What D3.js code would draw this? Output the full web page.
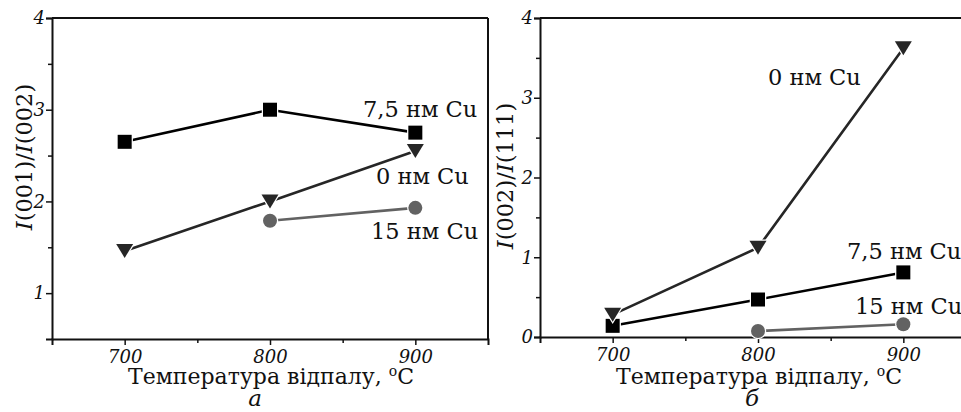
<!DOCTYPE html>
<html>
<head>
<meta charset="utf-8">
<script src="https://cdn.jsdelivr.net/npm/d3@7"></script>
<style>
  body { margin: 0; background: #fff; }
  svg { display: block; }
</style>
</head>
<body>
<script>
const width = 961;
const height = 412;
const serif = "DejaVu Serif";

// Data
const temps = [700, 800, 900];
const xTicks = [700, 800, 900];
const xMinor = [750, 850];

// panel a: I(001)/I(002)
const a_cu0 = [1.46, 2.0, 2.55];
const a_cu75 = [2.65, 3.0, 2.75];
const a_cu15 = [null, 1.79, 1.93];
const aTicks = [1, 2, 3, 4];
const aMinor = [1.5, 2.5, 3.5];

// panel b: I(002)/I(111)
const b_cu0 = [0.28, 1.12, 3.62];
const b_cu75 = [0.14, 0.47, 0.81];
const b_cu15 = [null, 0.075, 0.16];
const bTicks = [0, 1, 2, 3, 4];
const bMinor = [0.5, 1.5, 2.5, 3.5];

const seriesNames = ["0 нм Cu", "7,5 нм Cu", "15 нм Cu"];

const svg = d3.select("body").append("svg")
  .attr("width", width)
  .attr("height", height);

// marker shapes, with a thin white halo like the original
function marker(g, shape, x, y, color) {
  let m;
  if (shape === "square") {
    m = g.append("rect")
      .attr("x", x - 7).attr("y", y - 7)
      .attr("width", 14).attr("height", 14);
  } else if (shape === "circle") {
    m = g.append("circle")
      .attr("cx", x).attr("cy", y).attr("r", 7);
  } else {
    m = g.append("path")
      .attr("d", `M${x - 8.5},${y - 7}L${x + 8.5},${y - 7}L${x},${y + 7}Z`);
  }
  m.attr("fill", color)
    .attr("stroke", "#fff")
    .attr("stroke-width", 2.5)
    .attr("paint-order", "stroke");
}

function panel(opts) {
  const x = d3.scaleLinear().domain([650, 950]).range([opts.x0, opts.x0 + 436]);
  const y = d3.scaleLinear().domain(opts.yDomain).range([opts.yBottom, 18]);
  const g = svg.append("g");

  // frame: top and right
  g.append("line")
    .attr("x1", x.range()[0]).attr("x2", x.range()[1])
    .attr("y1", 18).attr("y2", 18)
    .attr("stroke", "#111").attr("stroke-width", 2);
  g.append("line")
    .attr("x1", x.range()[1]).attr("x2", x.range()[1])
    .attr("y1", 18).attr("y2", opts.yBottom)
    .attr("stroke", "#111").attr("stroke-width", 2);

  // axes, major + minor
  g.append("g")
    .attr("transform", `translate(0,${opts.yBottom})`)
    .call(d3.axisBottom(x).tickValues(xTicks).tickSize(6).tickPadding(5).tickFormat(d3.format("d")));
  g.append("g")
    .attr("transform", `translate(0,${opts.yBottom})`)
    .call(d3.axisBottom(x).tickValues(xMinor).tickSize(4).tickFormat(""))
    .call(s => s.select(".domain").remove());
  g.append("g")
    .attr("transform", `translate(${opts.x0},0)`)
    .call(d3.axisLeft(y).tickValues(opts.yTicks).tickSize(6).tickPadding(1).tickFormat(d3.format("d")));
  g.append("g")
    .attr("transform", `translate(${opts.x0},0)`)
    .call(d3.axisLeft(y).tickValues(opts.yMinor).tickSize(4).tickFormat(""))
    .call(s => s.select(".domain").remove());

  g.selectAll(".domain").attr("stroke", "#111").attr("stroke-width", 2);
  g.selectAll(".tick line").attr("stroke", "#111").attr("stroke-width", 1.5);
  g.selectAll(".tick text")
    .attr("font-family", serif)
    .attr("font-style", "italic")
    .attr("font-size", 18)
    .attr("fill", "#111");

  // series
  const line = d3.line()
    .defined(d => d[1] != null)
    .x(d => x(d[0]))
    .y(d => y(d[1]));

  opts.series.forEach(s => {
    const pts = temps.map((t, i) => [t, s.values[i]]);
    g.append("path")
      .datum(pts)
      .attr("d", line)
      .attr("fill", "none")
      .attr("stroke", s.color)
      .attr("stroke-width", 2.6);
  });
  opts.series.forEach(s => {
    temps.forEach((t, i) => {
      if (s.values[i] != null) marker(g, s.shape, x(t), y(s.values[i]), s.color);
    });
  });

  // series labels
  opts.labels.forEach(l => {
    g.append("text")
      .attr("x", l.x).attr("y", l.y)
      .attr("font-family", serif)
      .attr("font-size", 22.5)
      .attr("fill", "#111")
      .text(l.text);
  });

  // y title
  const yt = g.append("text")
    .attr("transform", `translate(${opts.yTitleX},${opts.yTitleY}) rotate(-90)`)
    .attr("text-anchor", "middle")
    .attr("font-family", serif)
    .attr("font-size", 22.5)
    .attr("fill", "#111");
  opts.yTitle.forEach(p => {
    yt.append("tspan").attr("font-style", p[1] ? "italic" : "normal").text(p[0]);
  });

  // x title
  const xt = g.append("text")
    .attr("x", x(800) + 1).attr("y", 384)
    .attr("text-anchor", "middle")
    .attr("font-family", serif)
    .attr("font-size", 22)
    .attr("fill", "#111");
  xt.append("tspan").text("Температура відпалу, ");
  xt.append("tspan").attr("font-size", 14).attr("dy", -8).text("o");
  xt.append("tspan").attr("dy", 8).text("C");

  g.append("text")
    .attr("x", x(800) + opts.letterDx).attr("y", 406)
    .attr("text-anchor", "middle")
    .attr("font-family", serif)
    .attr("font-size", 23)
    .attr("font-style", "italic")
    .attr("fill", "#111")
    .text(opts.letter);
}

panel({
  x0: 52,
  yBottom: 339,
  yDomain: [0.5, 4],
  yTicks: aTicks,
  yMinor: aMinor,
  yTitle: [["I", true], ["(001)/", false], ["I", true], ["(002)", false]],
  yTitleX: 32, yTitleY: 157,
  letter: "a", letterDx: -15,
  series: [
    { values: a_cu15, shape: "circle", color: "#626262" },
    { values: a_cu0, shape: "triangle", color: "#262626" },
    { values: a_cu75, shape: "square", color: "#000" }
  ],
  labels: [
    { text: seriesNames[1], x: 363, y: 117 },
    { text: seriesNames[0], x: 376, y: 184 },
    { text: seriesNames[2], x: 371, y: 239 }
  ]
});

panel({
  x0: 540,
  yBottom: 337,
  yDomain: [0, 4],
  yTicks: bTicks,
  yMinor: bMinor,
  yTitle: [["I", true], ["(002)/", false], ["I", true], ["(111)", false]],
  yTitleX: 513, yTitleY: 176,
  letter: "б", letterDx: -6,
  series: [
    { values: b_cu15, shape: "circle", color: "#626262" },
    { values: b_cu75, shape: "square", color: "#000" },
    { values: b_cu0, shape: "triangle", color: "#262626" }
  ],
  labels: [
    { text: seriesNames[0], x: 768, y: 85 },
    { text: seriesNames[1], x: 847, y: 259 },
    { text: seriesNames[2], x: 855, y: 314 }
  ]
});
</script>
</body>
</html>
